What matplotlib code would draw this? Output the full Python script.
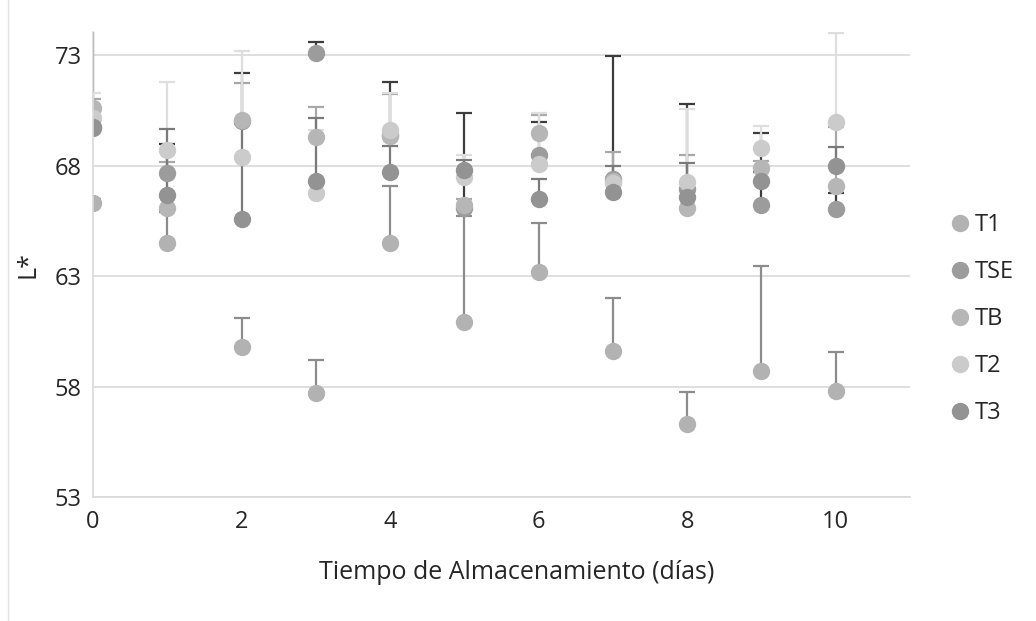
import matplotlib.pyplot as plt
from matplotlib.lines import Line2D

plt.rcParams['font.family'] = ['Open Sans', 'DejaVu Sans']

dias = [0, 1, 2, 3, 4, 5, 6, 7, 8, 9, 10]
series = ["T1", "TSE", "TB", "T2", "T3"]

t1 = [66.3, 64.5, 59.8, 57.7, 64.5, 60.9, 63.2, 59.6, 56.3, 58.7, 57.8]
t1_err = [0.2, 1.4, 1.3, 1.5, 2.57, 4.8, 2.2, 2.4, 1.45, 4.75, 1.75]

tse = [69.7, 67.66, 70.0, 73.1, 69.4, 66.1, 68.47, 67.4, 66.95, 66.2, 66.03]
tse_err = [5.0, 1.34, 2.2, 0.5, 2.4, 4.27, 1.5, 5.55, 3.85, 3.3, 0.72]

tb = [70.6, 66.1, 70.05, 69.3, 69.35, 66.2, 69.5, 67.3, 66.1, 67.9, 67.07]
tb_err = [0.4, 2.05, 1.7, 1.35, 1.9, 0.3, 0.8, 1.3, 2.4, 0.3, 2.68]

t2 = [70.15, 68.7, 68.4, 66.75, 69.6, 67.5, 68.06, 67.2, 67.25, 68.8, 69.97]
t2_err = [1.15, 3.1, 4.8, 2.85, 1.7, 0.97, 2.34, 0.3, 3.3, 1.0, 4.05]

t3 = [69.75, 66.66, 65.6, 67.3, 67.7, 67.8, 66.5, 66.8, 66.6, 67.3, 67.97]
t3_err = [0.5, 3.0, 4.3, 2.85, 1.2, 0.45, 0.9, 1.2, 1.5, 0.4, 0.86]

valores = [t1, tse, tb, t2, t3]
errores = [t1_err, tse_err, tb_err, t2_err, t3_err]
colores = ["#b2b2b2", "#9c9c9c", "#b6b6b6", "#cbcbcb", "#939393"]
ecolores = ["#8c8c8c", "#3c3c3c", "#a8a8a8", "#dedede", "#7a7a7a"]
texto = "#262626"

fig = plt.figure(figsize=(10.36, 6.21), dpi=100)
ax = fig.add_axes([93 / 1036, 1 - 497 / 621, (910 - 93) / 1036, (497 - 32) / 621])

for y, e, c, ec in zip(valores, errores, colores, ecolores):
    ax.errorbar(dias, y, yerr=[[0] * len(e), e], fmt="o", color=c, ms=11.5,
                ecolor=ec, elinewidth=1.6, capsize=6, capthick=1.6, mec=c)

ax.set_xlim(0, 11)
ax.set_ylim(53, 74.05)
ax.set_xticks([0, 2, 4, 6, 8, 10])
ax.set_yticks([53, 58, 63, 68, 73])
ax.yaxis.grid(True, color="#d9d9d9", lw=1.2)
ax.set_axisbelow(True)
for s in ["top", "right"]:
    ax.spines[s].set_visible(False)
for s in ["left", "bottom"]:
    ax.spines[s].set_color("#d9d9d9")
    ax.spines[s].set_linewidth(1.2)
ax.tick_params(axis="y", length=0, labelsize=17, colors=texto, pad=8)
ax.tick_params(axis="x", length=0, labelsize=17, colors=texto, pad=9)
ax.set_xlabel("Tiempo de Almacenamiento (días)", fontsize=18, color=texto, labelpad=19)
ax.xaxis.label.set_x(0.519)
ax.set_ylabel("L*", fontsize=18, color=texto, labelpad=10)

handles = [Line2D([], [], ls="none", marker="o", ms=11.5, color=c) for c in colores]
fig.legend(handles, series, loc="center left", bbox_to_anchor=(0.894, 0.486),
           frameon=False, fontsize=17, labelcolor=texto, handletextpad=0.05,
           labelspacing=0.98, handlelength=1.1)

fig.add_artist(Line2D([8 / 1036, 8 / 1036], [0, 1], color="#e3e3e3", lw=1))

fig.savefig("out.png", dpi=100)
